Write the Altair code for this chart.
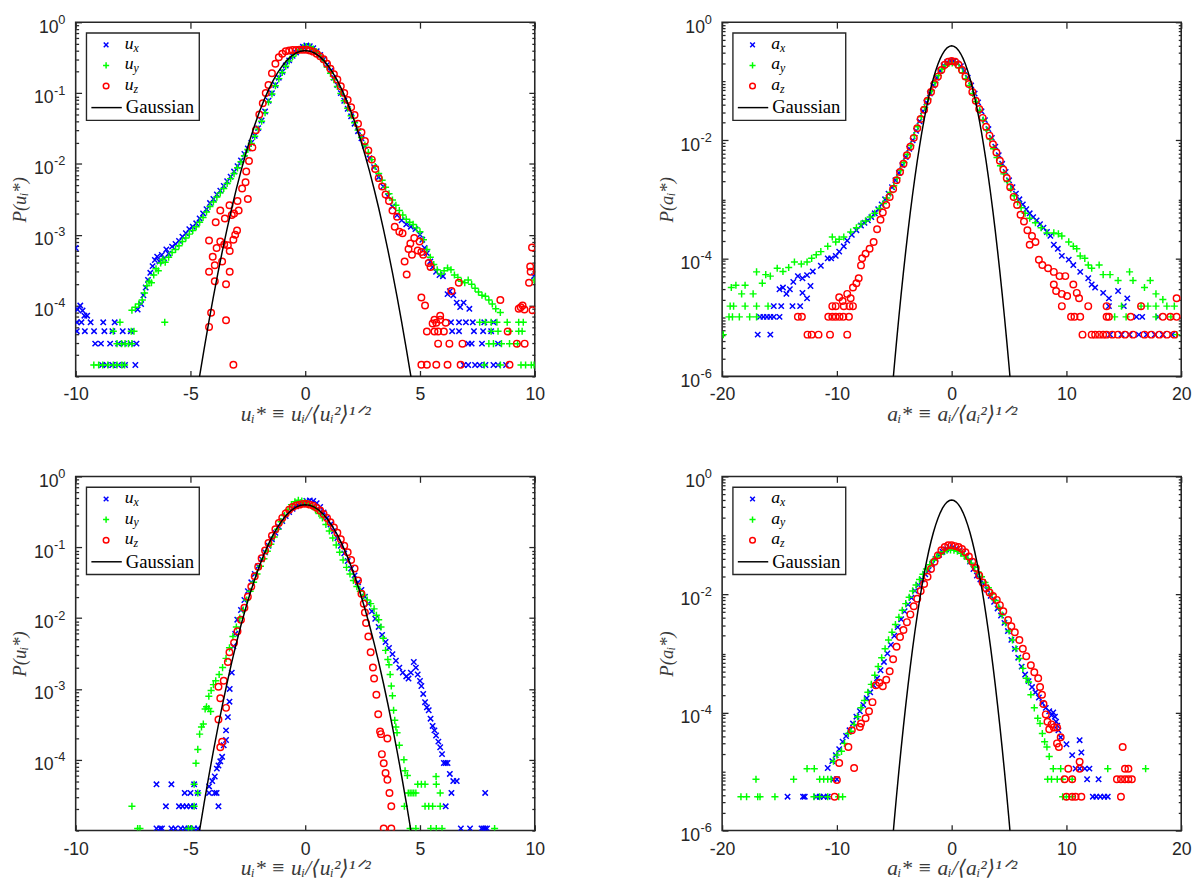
import altair as alt
import pandas as pd

# ---------------------------------------------------------------- data
# Gaussian reference curve, P = exp(-x^2/2)/sqrt(2 pi), read at fixed x
GAUSS_X = [-5.2, -5.0, -4.8, -4.6, -4.4, -4.2, -4.0, -3.8, -3.6, -3.4, -3.2, -3.0, -2.8,
           -2.6, -2.4, -2.2, -2.0, -1.8, -1.6, -1.4, -1.2, -1.0, -0.8, -0.6, -0.4, -0.2,
           0.0, 0.2, 0.4, 0.6, 0.8, 1.0, 1.2, 1.4, 1.6, 1.8, 2.0, 2.2, 2.4, 2.6, 2.8, 3.0,
           3.2, 3.4, 3.6, 3.8, 4.0, 4.2, 4.4, 4.6, 4.8, 5.0, 5.2]
GAUSS_P = [5.36e-7, 1.487e-6, 3.961e-6, 1.014e-5, 2.494e-5, 5.894e-5, 1.338e-4, 2.919e-4,
           6.12e-4, 1.232e-3, 2.384e-3, 4.432e-3, 7.92e-3, 1.358e-2, 2.239e-2, 3.547e-2,
           5.399e-2, 7.895e-2, 0.1109, 0.1497, 0.1942, 0.2420, 0.2897, 0.3332, 0.3683, 0.3910,
           0.3989, 0.3910, 0.3683, 0.3332, 0.2897, 0.2420, 0.1942, 0.1497, 0.1109, 7.895e-2,
           5.399e-2, 3.547e-2, 2.239e-2, 1.358e-2, 7.92e-3, 4.432e-3, 2.384e-3, 1.232e-3,
           6.12e-4, 2.919e-4, 1.338e-4, 5.894e-5, 2.494e-5, 1.014e-5, 3.961e-6, 1.487e-6, 5.36e-7]

# top-left: velocity PDFs, case 1  (x, P)
A_UX = [(-10.0, 6.5e-4), (-9.92, 8.8e-5), (-9.8, 1.0e-4), (-9.7, 8.5e-5), (-9.62, 7.2e-5), (-9.5, 7.2e-5),
        (-9.95, 5.8e-5), (-9.75, 5.8e-5), (-9.35, 5.8e-5), (-8.8, 5.8e-5), (-8.3, 5.8e-5),
        (-9.95, 4.35e-5), (-9.6, 4.35e-5), (-9.2, 4.35e-5), (-8.75, 4.35e-5), (-8.4, 4.35e-5), (-7.95, 4.35e-5), (-7.6, 4.35e-5),
        (-9.15, 2.9e-5), (-8.9, 2.9e-5), (-8.5, 2.9e-5), (-8.15, 2.9e-5), (-7.9, 2.9e-5), (-7.6, 2.9e-5), (-7.35, 2.9e-5),
        (-8.85, 1.45e-5), (-8.65, 1.45e-5), (-8.4, 1.45e-5), (-8.15, 1.45e-5), (-7.85, 1.45e-5), (-7.4, 1.45e-5),
        (-7.3, 8.8e-5), (-7.15, 1.05e-4), (-7.05, 1.4e-4), (-6.95, 1.8e-4), (-6.85, 2.3e-4), (-6.75, 2.9e-4),
        (-6.65, 3.6e-4), (-6.55, 4.4e-4), (-6.45, 4.9e-4), (-6.35, 4.2e-4), (-6.25, 5.2e-4), (-6.15, 4.6e-4),
        (-6.05, 6.2e-4), (-5.95, 5.4e-4), (-5.8, 6.8e-4), (-5.65, 7.4e-4), (-5.5, 8.2e-4), (-5.35, 9.4e-4),
        (-5.2, 1.05e-3), (-5.05, 1.2e-3), (-4.9, 1.3e-3), (-4.75, 1.45e-3), (-4.6, 1.7e-3), (-4.45, 2.0e-3),
        (-4.3, 2.3e-3), (-4.15, 2.8e-3), (-4.0, 3.2e-3), (-3.85, 3.7e-3), (-3.7, 4.2e-3), (-3.55, 4.9e-3),
        (-3.4, 5.7e-3), (-3.25, 6.6e-3), (-3.1, 7.8e-3), (-2.95, 9.3e-3), (-2.8, 1.12e-2), (-2.65, 1.38e-2),
        (-2.5, 1.65e-2), (-2.35, 2.0e-2), (-2.2, 2.5e-2), (-2.05, 3.2e-2), (-1.9, 4.1e-2), (-1.75, 5.5e-2),
        (-1.6, 7.8e-2), (-1.45, 0.1), (-1.3, 0.13), (-1.15, 0.165), (-1.0, 0.2), (-0.85, 0.245),
        (-0.7, 0.29), (-0.55, 0.335), (-0.4, 0.375), (-0.25, 0.415), (-0.1, 0.45), (0.05, 0.47),
        (0.2, 0.46), (0.35, 0.43), (0.5, 0.39), (0.65, 0.345), (0.8, 0.3), (0.95, 0.25), (1.1, 0.205),
        (1.25, 0.165), (1.4, 0.13), (1.55, 0.1), (1.7, 0.078), (1.85, 0.06), (2.0, 0.047), (2.15, 0.037),
        (2.3, 0.029), (2.45, 0.023), (2.6, 0.018), (2.8, 0.012), (3.0, 0.009), (3.2, 0.0065), (3.4, 0.0048),
        (3.6, 0.0035), (3.8, 0.0025), (4.0, 0.0019), (4.2, 0.0016), (4.4, 0.0014), (4.6, 0.0013),
        (4.8, 0.0012), (5.0, 0.001), (5.1, 8.5e-4), (5.2, 6.5e-4), (5.3, 5.5e-4), (5.45, 4.2e-4),
        (5.55, 3.5e-4), (5.7, 3.0e-4), (5.85, 2.7e-4), (6.0, 2.6e-4), (6.2, 1.45e-4), (6.3, 1.6e-4),
        (6.45, 1.4e-4), (6.6, 1.1e-4), (6.75, 9.5e-5), (6.9, 1.1e-4), (7.15, 9e-5),
        (6.35, 5.8e-5), (6.7, 5.8e-5), (7.0, 5.8e-5), (7.3, 5.8e-5), (7.8, 5.8e-5), (8.2, 5.8e-5),
        (6.4, 4.35e-5), (6.7, 4.35e-5), (7.35, 4.35e-5), (7.75, 4.35e-5), (8.1, 4.35e-5),
        (7.1, 2.9e-5), (7.25, 2.9e-5), (7.7, 2.9e-5), (8.4, 2.9e-5),
        (6.9, 1.45e-5), (7.1, 1.45e-5), (7.4, 1.45e-5), (7.6, 1.45e-5), (7.85, 1.45e-5), (8.2, 1.45e-5),
        (8.4, 1.45e-5), (8.75, 1.45e-5), (9.97, 2.6e-4)]
A_UY = [(-8.07, 5.8e-5), (-6.12, 5.8e-5), (-8.36, 4.35e-5), (-7.58, 4.35e-5), (-7.46, 4.35e-5),
        (-8.2, 2.9e-5), (-8.0, 2.9e-5), (-7.85, 2.9e-5), (-7.7, 2.9e-5), (-7.55, 2.9e-5),
        (-9.21, 1.45e-5), (-9.0, 1.45e-5), (-8.82, 1.45e-5), (-8.6, 1.45e-5), (-8.36, 1.45e-5), (-8.2, 1.45e-5),
        (-7.99, 1.45e-5), (-7.87, 1.45e-5),
        (-7.55, 8.6e-5), (-7.4, 9.5e-5), (-7.25, 1.05e-4), (-7.1, 1.2e-4), (-7.0, 1.5e-4), (-6.9, 1.9e-4),
        (-6.8, 2.2e-4), (-6.7, 2.1e-4), (-6.6, 2.7e-4), (-6.5, 3.3e-4), (-6.4, 3.1e-4), (-6.3, 4.0e-4),
        (-6.2, 4.5e-4), (-6.1, 4.1e-4), (-5.95, 4.8e-4), (-5.8, 5.6e-4), (-5.65, 6.2e-4), (-5.5, 7.0e-4),
        (-5.35, 8.0e-4), (-5.2, 9.0e-4), (-5.05, 1.02e-3), (-4.9, 1.15e-3), (-4.75, 1.3e-3), (-4.6, 1.5e-3),
        (-4.45, 1.75e-3), (-4.3, 2.1e-3), (-4.15, 2.5e-3), (-4.0, 2.9e-3), (-3.85, 3.4e-3), (-3.7, 3.9e-3),
        (-3.55, 4.5e-3), (-3.4, 5.3e-3), (-3.25, 6.2e-3), (-3.1, 7.3e-3), (-2.95, 8.8e-3), (-2.8, 1.07e-2),
        (-2.65, 1.3e-2), (-2.5, 1.6e-2), (-2.35, 1.95e-2), (-2.2, 2.45e-2), (-2.05, 3.1e-2), (-1.9, 4.0e-2),
        (-1.75, 5.3e-2), (-1.6, 7.5e-2), (-1.45, 9.7e-2), (-1.3, 0.127), (-1.15, 0.16), (-1.0, 0.195),
        (-0.85, 0.24), (-0.7, 0.285), (-0.55, 0.33), (-0.4, 0.37), (-0.25, 0.41), (-0.1, 0.44), (0.05, 0.455),
        (0.2, 0.45), (0.35, 0.42), (0.5, 0.38), (0.65, 0.335), (0.8, 0.285), (0.95, 0.235), (1.1, 0.19),
        (1.25, 0.155), (1.4, 0.124), (1.55, 0.099), (1.7, 0.078), (1.85, 0.061), (2.0, 0.048), (2.15, 0.038),
        (2.3, 0.03), (2.45, 0.0235), (2.6, 0.0185), (2.75, 0.0145), (2.9, 0.0115), (3.05, 0.0092),
        (3.2, 0.0073), (3.35, 0.0059), (3.5, 0.0047), (3.65, 0.0038), (3.8, 0.0031), (3.95, 0.0026),
        (4.1, 0.0022), (4.25, 0.0019), (4.4, 0.00165), (4.55, 0.0015), (4.7, 0.0014), (4.85, 0.00125),
        (5.0, 0.0011), (5.15, 8.5e-4), (5.3, 6.2e-4), (5.45, 4.8e-4), (5.6, 3.8e-4), (5.75, 3.2e-4),
        (5.9, 2.8e-4), (6.05, 3.1e-4), (6.2, 3.4e-4), (6.35, 3.2e-4), (6.5, 2.7e-4), (6.65, 2.5e-4),
        (6.8, 2.2e-4), (6.95, 2.1e-4), (7.1, 2.3e-4), (7.25, 2.0e-4), (7.4, 1.75e-4), (7.55, 1.55e-4),
        (7.7, 1.4e-4), (7.85, 1.35e-4), (8.0, 1.2e-4), (8.15, 1.05e-4), (8.3, 9.0e-5), (8.5, 8.0e-5),
        (7.6, 5.8e-5), (7.85, 5.8e-5), (8.1, 5.8e-5), (8.35, 5.8e-5), (8.8, 5.8e-5), (9.3, 5.8e-5), (9.5, 5.8e-5),
        (8.1, 4.35e-5), (8.4, 4.35e-5), (8.9, 4.35e-5), (9.3, 4.35e-5), (9.45, 4.35e-5),
        (8.0, 2.9e-5), (8.2, 2.9e-5), (8.55, 2.9e-5), (8.9, 2.9e-5), (9.25, 2.9e-5),
        (7.8, 1.45e-5), (8.5, 1.45e-5), (9.4, 1.45e-5), (9.6, 1.45e-5), (9.85, 1.45e-5), (9.97, 1.45e-5),
        (9.97, 2.3e-4)]
A_UZ = [(-4.19, 8.3e-4), (-4.19, 3.0e-4), (-4.19, 5.0e-5), (-4.1, 7.9e-5), (-4.03, 4.9e-4), (-3.94, 3.7e-4),
        (-3.94, 2.2e-4), (-3.9, 1.5e-3), (-3.86, 6.5e-4), (-3.7, 8.0e-4), (-3.7, 2.2e-3), (-3.62, 4.2e-4),
        (-3.53, 7.3e-4), (-3.5, 1.7e-3), (-3.45, 2.0e-4), (-3.45, 6.2e-5), (-3.37, 7.1e-4), (-3.3, 2.6e-3),
        (-3.29, 5.9e-4), (-3.29, 3.0e-4), (-3.2, 1.9e-3), (-3.13, 8.5e-4), (-3.13, 1.46e-5), (-3.1, 2.0e-3),
        (-3.05, 1.0e-3), (-2.97, 1.15e-3), (-2.95, 3.0e-3), (-2.9, 2.2e-3), (-2.75, 4.5e-3), (-2.6, 5.5e-3),
        (-2.57, 7.8e-3), (-2.5, 3.2e-3), (-2.45, 1.1e-2), (-2.3, 1.7e-2), (-2.15, 3.0e-2), (-2.0, 5.0e-2),
        (-1.85, 7.2e-2), (-1.72, 0.1), (-1.6, 0.13), (-1.45, 0.19), (-1.3, 0.26), (-1.15, 0.32), (-1.0, 0.36),
        (-0.85, 0.39), (-0.7, 0.4), (-0.55, 0.405), (-0.4, 0.405), (-0.25, 0.41), (-0.1, 0.41), (0.05, 0.41),
        (0.2, 0.4), (0.35, 0.385), (0.5, 0.36), (0.65, 0.33), (0.8, 0.3), (0.95, 0.26), (1.1, 0.22),
        (1.25, 0.185), (1.4, 0.155), (1.55, 0.125), (1.7, 0.1), (1.85, 0.08), (2.0, 0.063), (2.15, 0.049),
        (2.3, 0.037), (2.45, 0.028), (2.6, 0.021), (2.75, 0.0155), (2.9, 0.0115), (3.05, 0.0085),
        (3.2, 0.0063), (3.35, 0.0048), (3.5, 0.0037), (3.65, 0.003), (3.8, 0.0022), (3.9, 0.0013),
        (4.0, 0.0018), (4.1, 0.0011), (4.24, 0.00105), (4.33, 4.2e-4), (4.42, 2.75e-4), (4.5, 6.3e-4),
        (4.58, 7.5e-4), (4.65, 5.2e-4), (4.75, 9e-4), (4.9, 6.0e-4), (4.98, 8.0e-4), (5.06, 5.7e-4),
        (5.06, 1.3e-4), (5.06, 1.46e-5), (5.14, 5.2e-4), (5.22, 1.0e-4), (5.3, 4.3e-5), (5.3, 1.46e-5),
        (5.38, 4.0e-4), (5.46, 3.5e-4), (5.55, 5.6e-5), (5.63, 6.3e-5), (5.63, 4.3e-5), (5.71, 5.7e-5),
        (5.71, 1.46e-5), (5.79, 4.3e-5), (5.79, 2.9e-5), (5.88, 6.3e-5), (5.88, 7.2e-5), (6.04, 4.3e-5),
        (6.12, 5.7e-5), (6.2, 1.46e-5), (6.28, 2.9e-5), (6.37, 1.6e-4), (6.69, 2.1e-4), (6.77, 1.46e-5),
        (6.85, 2.9e-5), (8.5, 1.2e-4), (8.82, 4.3e-5), (8.9, 1.46e-5), (9.22, 2.9e-5), (9.3, 9.0e-5),
        (9.39, 9.5e-5), (9.47, 1.0e-4), (9.55, 8.8e-5), (9.56, 2.9e-5), (9.75, 2.1e-4), (9.8, 3.55e-4),
        (9.82, 3.0e-4), (9.88, 6.6e-4), (9.9, 8.6e-5)]

# top-right: acceleration PDFs, case 1
B_AX = [(-0.1, 0.22), (0.2, 0.22), (0.5, 0.2), (-0.4, 0.21), (-0.7, 0.185), (0.8, 0.18), (-1.0, 0.15),
        (1.1, 0.15), (-1.3, 0.115), (1.4, 0.115), (-1.6, 0.085), (1.7, 0.085), (-1.9, 0.062), (2.0, 0.062),
        (-2.2, 0.044), (2.3, 0.044), (-2.5, 0.031), (2.6, 0.031), (-2.8, 0.021), (2.9, 0.022), (-3.1, 0.0145),
        (3.2, 0.0155), (-3.4, 0.01), (3.5, 0.011), (-3.7, 0.0072), (3.8, 0.0078), (-4.0, 0.0052), (4.1, 0.0056),
        (-4.3, 0.0038), (4.4, 0.004), (-4.6, 0.0028), (4.7, 0.0029), (-4.9, 0.0021), (5.0, 0.0021),
        (-5.2, 0.0016), (5.3, 0.0016), (-5.5, 0.00125), (5.6, 0.00125), (-5.8, 0.001), (5.9, 0.001),
        (-6.1, 8.2e-4), (6.2, 8.2e-4), (-6.4, 6.8e-4), (6.5, 6.8e-4), (-6.7, 5.8e-4), (6.8, 5.8e-4),
        (-7.0, 5.0e-4), (7.1, 5.0e-4), (-7.3, 4.4e-4), (7.4, 4.4e-4), (-7.6, 4.0e-4), (7.7, 3.8e-4),
        (-7.9, 3.6e-4), (8.0, 3.3e-4), (-8.3, 3.0e-4), (8.3, 2.8e-4), (-8.7, 2.5e-4), (8.6, 2.4e-4),
        (-9.1, 2.0e-4), (8.9, 1.7e-4), (-9.4, 1.6e-4), (9.25, 1.45e-4), (-9.8, 1.3e-4), (9.6, 1.1e-4),
        (-10.1, 1.1e-4), (10.2, 9.5e-5), (-10.5, 1.0e-4), (10.6, 7.7e-5), (-10.8, 1.0e-4), (11.2, 5.9e-5),
        (-11.4, 7.5e-5), (11.9, 4.6e-5), (-12.1, 6.0e-5), (12.2, 3.6e-5), (-12.6, 5.2e-5), (12.5, 3.2e-5),
        (-13.0, 4.6e-5), (13.2, 2.6e-5), (-13.4, 5.0e-5), (13.7, 2.1e-5), (-13.8, 4.0e-5), (14.5, 2.8e-5),
        (-14.1, 3.0e-5), (15.3, 2.1e-5), (-14.4, 2.5e-5), (-14.7, 3.2e-5), (-15.0, 3.0e-5), (-12.6, 2.1e-5),
        (-13.0, 2.6e-5), (-12.3, 3.4e-5),
        (-15.5, 1.55e-5), (-14.85, 1.55e-5), (-13.87, 1.55e-5), (-13.2, 1.55e-5), (13.7, 1.55e-5), (15.0, 1.55e-5),
        (-16.7, 1.02e-5), (-16.4, 1.02e-5), (-16.1, 1.02e-5), (-15.8, 1.02e-5), (-15.5, 1.02e-5),
        (-15.0, 1.02e-5), (16.1, 1.02e-5), (16.6, 1.02e-5), (18.0, 1.02e-5),
        (-16.9, 5.1e-6), (-15.8, 5.1e-6), (13.8, 5.1e-6), (14.8, 5.1e-6), (15.5, 5.1e-6), (16.3, 5.1e-6),
        (17.0, 5.1e-6), (17.7, 5.1e-6), (18.4, 5.1e-6), (19.2, 5.1e-6)]
B_AY = [(-0.25, 0.2), (0.05, 0.205), (0.35, 0.195), (-0.55, 0.185), (0.65, 0.17), (-0.85, 0.16), (0.95, 0.14),
        (-1.15, 0.125), (1.25, 0.11), (-1.45, 0.095), (1.55, 0.085), (-1.75, 0.07), (1.85, 0.062), (-2.05, 0.05),
        (2.15, 0.045), (-2.35, 0.036), (2.45, 0.032), (-2.65, 0.025), (2.75, 0.022), (-2.95, 0.017),
        (3.05, 0.015), (-3.25, 0.012), (3.35, 0.0105), (-3.55, 0.0082), (3.65, 0.0072), (-3.85, 0.0058),
        (3.95, 0.0051), (-4.15, 0.0042), (4.25, 0.0037), (-4.45, 0.0031), (4.55, 0.0027), (-4.75, 0.0023),
        (4.85, 0.002), (-5.05, 0.0017), (5.15, 0.0015), (-5.35, 0.0013), (5.45, 0.00115), (-5.65, 0.00105),
        (5.75, 9e-4), (-5.95, 8.5e-4), (6.05, 7.2e-4), (-6.3, 7e-4), (6.4, 5.8e-4), (-6.7, 5.8e-4),
        (6.8, 4.8e-4), (-7.1, 5.0e-4), (7.3, 4.0e-4), (-7.5, 4.3e-4), (7.8, 3.3e-4), (-7.9, 3.8e-4),
        (8.3, 2.7e-4), (-8.3, 3.3e-4), (8.9, 2.7e-4), (-8.8, 2.8e-4), (9.3, 2.6e-4), (-9.4, 2.3e-4),
        (9.6, 2.4e-4), (-9.8, 2.1e-4), (10.2, 1.9e-4), (-10.1, 1.9e-4), (10.6, 1.6e-4), (-10.4, 2.3e-4),
        (10.9, 1.45e-4), (-10.8, 1.6e-4), (11.2, 1.1e-4), (-11.4, 1.3e-4), (11.6, 1.0e-4), (-11.8, 1.15e-4),
        (11.9, 7.7e-5), (-12.2, 1.0e-4), (12.2, 6.8e-5), (-12.6, 8.7e-5), (12.85, 7.7e-5), (-13.1, 8.0e-5),
        (13.2, 5.3e-5), (-13.7, 8.7e-5), (13.8, 5.3e-5), (-14.2, 7.0e-5), (14.5, 4.2e-5), (-14.7, 6.0e-5),
        (15.5, 5.9e-5), (-15.2, 6.8e-5), (15.8, 4.2e-5), (-15.8, 5.0e-5), (16.8, 3.2e-5), (-16.2, 5.3e-5),
        (17.3, 4.2e-5), (-17.0, 5.9e-5), (17.8, 2.5e-5), (-17.3, 2.5e-5), (18.4, 2.0e-5), (-18.0, 3.5e-5),
        (-18.3, 2.5e-5), (-18.8, 3.5e-5), (-19.2, 3.2e-5), (-16.5, 3.8e-5),
        (-19.3, 1.55e-5), (-19.0, 1.55e-5), (-18.0, 1.55e-5), (-17.0, 1.55e-5), (-16.0, 1.55e-5), (14.8, 1.55e-5),
        (16.5, 1.55e-5), (17.1, 1.55e-5), (17.8, 1.55e-5), (18.75, 1.55e-5), (19.4, 1.55e-5),
        (-19.4, 1.02e-5), (-19.1, 1.02e-5), (-18.5, 1.02e-5), (-17.6, 1.02e-5), (-17.0, 1.02e-5), (14.2, 1.02e-5),
        (15.2, 1.02e-5), (17.8, 1.02e-5), (19.1, 1.02e-5),
        (-19.9, 5.1e-6), (19.6, 5.1e-6)]
B_AZ = [(0.0, 0.22), (-0.3, 0.215), (0.3, 0.215), (-0.6, 0.19), (0.6, 0.19), (-0.9, 0.155), (0.9, 0.155),
        (-1.2, 0.12), (1.2, 0.12), (-1.5, 0.09), (1.5, 0.09), (-1.8, 0.066), (1.8, 0.066), (-2.1, 0.047),
        (2.1, 0.047), (-2.4, 0.033), (2.4, 0.034), (-2.7, 0.023), (2.7, 0.024), (-3.0, 0.016), (3.0, 0.017),
        (-3.3, 0.011), (3.3, 0.012), (-3.6, 0.0078), (3.6, 0.0086), (-3.9, 0.0056), (3.9, 0.0062),
        (-4.2, 0.004), (4.2, 0.0045), (-4.5, 0.0029), (4.5, 0.0032), (-4.8, 0.0021), (4.8, 0.0023),
        (-5.1, 0.0015), (5.1, 0.0016), (-5.4, 0.0011), (5.4, 0.0011), (-5.7, 8e-4), (5.7, 8e-4), (-6.0, 6e-4),
        (6.0, 5.5e-4), (-6.2, 4.5e-4), (6.3, 4.2e-4), (-6.5, 3.1e-4), (6.6, 3.0e-4), (-6.8, 1.9e-4),
        (6.8, 1.7e-4), (-7.15, 1.45e-4), (7.0, 2.4e-4), (-7.5, 1.2e-4), (7.3, 1.9e-4), (-7.8, 1.0e-4),
        (7.6, 9.5e-5), (-7.9, 7.6e-5), (7.9, 7.7e-5), (-8.1, 4.6e-5), (8.4, 6.8e-5), (-8.3, 3.8e-5),
        (8.9, 5.9e-5), (-8.6, 3.2e-5), (9.4, 5.0e-5), (-9.1, 2.5e-5), (9.9, 5.0e-5), (-8.8, 2.1e-5),
        (8.9, 3.6e-5), (-9.5, 1.9e-5), (9.1, 2.8e-5), (-9.8, 2.2e-5), (9.6, 2.5e-5), (10.6, 3.6e-5),
        (10.9, 2.6e-5), (11.1, 2.1e-5), (10.06, 2.3e-5), (19.6, 2.1e-5),
        (-10.4, 1.55e-5), (-10.1, 1.55e-5), (-9.4, 1.55e-5), (-8.9, 1.55e-5), (-8.6, 1.55e-5), (9.6, 1.55e-5),
        (11.9, 1.55e-5), (13.5, 1.55e-5), (16.5, 1.55e-5),
        (-13.4, 1.02e-5), (-13.05, 1.02e-5), (-10.75, 1.02e-5), (-10.4, 1.02e-5), (-10.1, 1.02e-5),
        (-9.77, 1.02e-5), (-9.44, 1.02e-5), (-8.95, 1.02e-5), (10.4, 1.02e-5), (10.7, 1.02e-5),
        (11.2, 1.02e-5), (13.5, 1.02e-5), (13.7, 1.02e-5), (15.6, 1.02e-5), (18.4, 1.02e-5),
        (19.05, 1.02e-5), (19.6, 1.02e-5),
        (-12.56, 5.1e-6), (-12.2, 5.1e-6), (-11.6, 5.1e-6), (-10.6, 5.1e-6), (-9.1, 5.1e-6), (11.4, 5.1e-6),
        (12.2, 5.1e-6), (12.5, 5.1e-6), (12.85, 5.1e-6), (13.2, 5.1e-6), (13.5, 5.1e-6), (14.0, 5.1e-6),
        (14.5, 5.1e-6), (15.1, 5.1e-6), (15.8, 5.1e-6), (16.8, 5.1e-6), (17.4, 5.1e-6), (18.1, 5.1e-6),
        (18.75, 5.1e-6), (19.4, 5.1e-6)]

# bottom-left: velocity PDFs, case 2
C_UX = [(-6.48, 4.5e-5), (-5.83, 4.5e-5), (-4.84, 4.5e-5),
        (-5.25, 3.4e-5), (-5.0, 3.4e-5), (-4.68, 3.4e-5), (-4.19, 3.4e-5), (-3.94, 3.4e-5), (-3.86, 3.4e-5),
        (-6.07, 2.2e-5), (-5.5, 2.2e-5), (-5.34, 2.2e-5), (-5.17, 2.2e-5), (-5.0, 2.2e-5), (-4.84, 2.2e-5),
        (-3.78, 2.2e-5),
        (-6.48, 1.07e-5), (-6.32, 1.07e-5), (-6.24, 1.07e-5), (-5.83, 1.07e-5), (-5.66, 1.07e-5),
        (-5.42, 1.07e-5), (-5.25, 1.07e-5), (-5.09, 1.07e-5), (-4.84, 1.07e-5), (-4.68, 1.07e-5),
        (-4.19, 4.2e-5), (-4.05, 5.0e-5), (-3.94, 5.8e-5), (-3.85, 7.5e-5), (-3.78, 8.3e-5), (-3.7, 9.5e-5),
        (-3.62, 1.1e-4), (-3.55, 1.6e-4), (-3.45, 1.9e-4), (-3.45, 2.6e-4), (-3.37, 4.0e-4), (-3.3, 6.6e-4),
        (-3.29, 1.0e-3), (-3.2, 1.7e-3), (-3.13, 4.0e-3), (-3.05, 6e-3), (-2.96, 9.5e-3), (-2.8, 0.013),
        (-2.65, 0.018), (-2.5, 0.024), (-2.35, 0.032), (-2.2, 0.042), (-2.05, 0.054), (-1.9, 0.068),
        (-1.75, 0.085), (-1.6, 0.105), (-1.45, 0.13), (-1.3, 0.16), (-1.15, 0.195), (-1.0, 0.235),
        (-0.85, 0.275), (-0.7, 0.315), (-0.55, 0.35), (-0.4, 0.38), (-0.25, 0.41), (-0.1, 0.43), (0.05, 0.45),
        (0.2, 0.46), (0.35, 0.45), (0.5, 0.42), (0.65, 0.37), (0.8, 0.31), (0.95, 0.26), (1.1, 0.21),
        (1.25, 0.17), (1.4, 0.135), (1.55, 0.105), (1.7, 0.082), (1.85, 0.064), (2.0, 0.05), (2.15, 0.04),
        (2.3, 0.032), (2.45, 0.025), (2.6, 0.02), (2.75, 0.016), (2.9, 0.0125), (3.05, 0.0098),
        (3.2, 0.0075), (3.35, 0.0058), (3.5, 0.0046), (3.65, 0.0038), (3.8, 0.0031), (3.95, 0.0025),
        (4.1, 0.002), (4.25, 0.0017), (4.4, 0.0015), (4.5, 0.0014), (4.6, 0.0017), (4.73, 0.0024),
        (4.82, 0.002), (4.9, 0.0016), (5.0, 0.0013), (5.06, 0.0011), (5.14, 8.5e-4), (5.22, 6.5e-4),
        (5.3, 5.5e-4), (5.38, 5.0e-4), (5.46, 3.8e-4), (5.55, 3.0e-4), (5.63, 2.6e-4), (5.7, 2.2e-4),
        (5.8, 1.8e-4), (5.88, 1.5e-4), (5.96, 1.2e-4), (6.04, 9e-5), (6.12, 9e-5), (6.2, 9e-5),
        (6.3, 6.3e-5), (6.45, 5.0e-5), (6.6, 5.0e-5),
        (6.37, 3.4e-5), (7.84, 3.4e-5), (6.12, 2.2e-5), (6.78, 1.07e-5), (7.18, 1.07e-5), (7.68, 1.07e-5),
        (7.76, 1.07e-5), (7.84, 1.07e-5), (7.92, 1.07e-5)]
C_UY = [(-7.55, 2.2e-5), (-7.3, 1.07e-5), (-7.2, 1.07e-5), (-5.09, 1.07e-5), (-4.95, 1.07e-5),
        (-4.84, 2.2e-5), (-4.68, 3.4e-5), (-4.84, 4.5e-5), (-4.76, 8.9e-5), (-4.68, 1.4e-4), (-4.6, 2.3e-4),
        (-4.52, 2.9e-4), (-4.44, 3.2e-4), (-4.36, 5.2e-4), (-4.3, 5.6e-4), (-4.2, 5.3e-4), (-4.12, 4.8e-4),
        (-4.2, 7.9e-4), (-4.1, 9.5e-4), (-4.0, 1.15e-3), (-3.9, 1.3e-3), (-3.75, 1.6e-3), (-3.6, 2.0e-3),
        (-3.45, 2.7e-3), (-3.3, 3.8e-3), (-3.15, 5.5e-3), (-3.0, 7.5e-3), (-2.85, 1.0e-2), (-2.7, 1.3e-2),
        (-2.55, 1.8e-2), (-2.4, 2.4e-2), (-2.25, 3.2e-2), (-2.1, 4.2e-2), (-1.95, 5.4e-2), (-1.8, 6.9e-2),
        (-1.65, 8.8e-2), (-1.5, 0.11), (-1.35, 0.14), (-1.2, 0.18), (-1.05, 0.23), (-0.9, 0.28),
        (-0.75, 0.34), (-0.6, 0.4), (-0.45, 0.44), (-0.3, 0.46), (-0.15, 0.45), (0.0, 0.43), (0.15, 0.41),
        (0.3, 0.38), (0.45, 0.34), (0.6, 0.3), (0.75, 0.26), (0.9, 0.21), (1.05, 0.17), (1.2, 0.135),
        (1.35, 0.108), (1.5, 0.085), (1.65, 0.066), (1.8, 0.052), (1.95, 0.042), (2.1, 0.034),
        (2.25, 0.028), (2.4, 0.024), (2.55, 0.021), (2.7, 0.018), (2.85, 0.016), (3.0, 0.0135),
        (3.1, 0.011), (3.2, 0.0095), (3.3, 0.0075), (3.4, 0.0052), (3.5, 0.0035), (3.6, 0.0026),
        (3.65, 0.0022), (3.7, 0.0016), (3.75, 1.1e-3), (3.8, 8e-4), (3.85, 5e-4), (3.9, 3.6e-4),
        (3.95, 2.9e-4), (4.0, 2.4e-4), (4.1, 1.6e-4), (4.3, 1.0e-4), (4.35, 7e-5), (4.45, 6e-5),
        (4.9, 4.5e-5), (5.06, 4.5e-5), (5.22, 4.5e-5), (5.71, 4.5e-5),
        (4.49, 3.4e-5), (4.57, 3.4e-5), (4.65, 3.4e-5), (4.73, 3.4e-5), (4.82, 3.4e-5), (5.88, 3.4e-5),
        (4.32, 2.2e-5), (5.22, 2.2e-5), (5.38, 2.2e-5), (5.55, 2.2e-5), (5.88, 2.2e-5),
        (4.57, 1.07e-5), (4.82, 1.07e-5), (5.47, 1.07e-5), (5.71, 1.07e-5), (5.96, 1.07e-5), (8.25, 1.07e-5),
        (5.7, 5.8e-5)]
C_UZ = [(-3.78, 1.07e-3), (-3.7, 7.4e-4), (-3.45, 5.4e-4), (-3.78, 3.7e-4), (-3.62, 1.8e-4), (-3.7, 1.5e-4),
        (-3.55, 1.3e-3), (-3.37, 2.4e-3), (-3.3, 3.3e-3), (-3.1, 4.5e-3), (-2.95, 6.5e-3), (-2.8, 9.5e-3),
        (-2.65, 0.014), (-2.5, 0.02), (-2.35, 0.028), (-2.2, 0.039), (-2.05, 0.053), (-1.9, 0.07),
        (-1.75, 0.09), (-1.6, 0.115), (-1.45, 0.145), (-1.3, 0.18), (-1.15, 0.22), (-1.0, 0.26),
        (-0.85, 0.3), (-0.7, 0.34), (-0.55, 0.37), (-0.4, 0.39), (-0.25, 0.4), (-0.1, 0.41), (0.05, 0.41),
        (0.2, 0.4), (0.35, 0.385), (0.5, 0.36), (0.65, 0.33), (0.8, 0.295), (0.95, 0.26), (1.1, 0.225),
        (1.25, 0.19), (1.4, 0.16), (1.55, 0.13), (1.7, 0.105), (1.85, 0.085), (2.0, 0.066), (2.15, 0.05),
        (2.3, 0.034), (2.45, 0.022), (2.55, 0.016), (2.6, 0.012), (2.65, 8.5e-3), (2.75, 5.5e-3),
        (2.85, 3.3e-3), (2.95, 2.0e-3), (3.0, 1.4e-3), (3.1, 8.3e-4), (3.18, 4.4e-4), (3.26, 2.5e-4),
        (3.3, 2.3e-4), (3.58, 2.0e-4), (3.34, 1.2e-4), (3.42, 8.9e-5), (3.5, 6.5e-5), (3.58, 5.2e-5),
        (3.67, 3.4e-5), (3.75, 2.2e-5), (3.42, 1.07e-5), (3.75, 1.07e-5)]

# bottom-right: acceleration PDFs, case 2
D_AX = [(-0.2, 0.062), (0.1, 0.063), (0.4, 0.06), (-0.5, 0.058), (0.7, 0.056), (-0.8, 0.053), (1.0, 0.05),
        (-1.1, 0.047), (1.3, 0.044), (-1.4, 0.04), (1.6, 0.036), (-1.7, 0.033), (1.9, 0.027),
        (-2.0, 0.026), (2.2, 0.021), (-2.3, 0.022), (2.5, 0.018), (-2.6, 0.018), (2.8, 0.015),
        (-2.9, 0.0145), (3.1, 0.012), (-3.2, 0.0115), (3.4, 0.0095), (-3.5, 0.0088), (3.7, 0.0075),
        (-3.8, 0.0068), (4.0, 0.0058), (-4.1, 0.0052), (4.3, 0.0044), (-4.4, 0.0038), (4.6, 0.0033),
        (-4.7, 0.0028), (4.9, 0.0024), (-5.0, 0.002), (5.2, 0.0017), (-5.3, 0.0014), (5.5, 0.0012),
        (-5.6, 0.001), (5.8, 8.5e-4), (-5.9, 7.2e-4), (6.1, 6e-4), (-6.2, 5.2e-4), (6.4, 4.4e-4),
        (-6.5, 3.8e-4), (6.7, 3.4e-4), (-6.8, 2.9e-4), (7.0, 2.7e-4), (-7.1, 2.2e-4), (7.3, 2.2e-4),
        (-7.4, 1.75e-4), (7.6, 1.8e-4), (-7.7, 1.35e-4), (7.9, 1.45e-4), (-8.0, 1.05e-4), (8.2, 1.2e-4),
        (-8.3, 8.5e-5), (8.5, 1.05e-4), (-8.6, 6.5e-5), (8.7, 9e-5), (-8.9, 5e-5), (8.85, 1.0e-4),
        (-9.2, 4e-5), (9.0, 8.5e-5), (-9.5, 3.2e-5), (9.1, 7e-5), (-9.8, 2.4e-5), (9.2, 6e-5),
        (-10.1, 1.9e-5), (9.3, 5e-5), (-10.4, 1.5e-5), (9.5, 3.8e-5), (-10.8, 1.15e-5), (10.0, 2.9e-5),
        (10.5, 1.9e-5), (11.15, 3.4e-5), (11.3, 2.1e-5),
        (10.8, 1.12e-5), (11.15, 1.12e-5), (11.6, 1.12e-5), (12.0, 1.12e-5),
        (-10.3, 7.4e-6), (-10.0, 7.4e-6), (11.8, 7.4e-6), (12.8, 7.4e-6),
        (-14.3, 3.75e-6), (-12.95, 3.75e-6), (-12.8, 3.75e-6), (-11.8, 3.75e-6), (-11.5, 3.75e-6),
        (-11.15, 3.75e-6), (-10.8, 3.75e-6), (12.3, 3.75e-6), (12.6, 3.75e-6), (12.95, 3.75e-6),
        (13.3, 3.75e-6), (13.6, 3.75e-6)]
D_AY = [(-0.4, 0.056), (-0.1, 0.057), (0.2, 0.056), (0.5, 0.054), (-0.7, 0.053), (0.8, 0.05), (-1.0, 0.048),
        (1.1, 0.045), (-1.3, 0.043), (1.4, 0.04), (-1.6, 0.038), (1.7, 0.034), (-1.9, 0.032), (2.0, 0.029),
        (-2.2, 0.027), (2.3, 0.024), (-2.5, 0.022), (2.6, 0.02), (-2.8, 0.018), (2.9, 0.016), (-3.1, 0.0145),
        (3.2, 0.013), (-3.4, 0.0115), (3.5, 0.0102), (-3.7, 0.009), (3.8, 0.0079), (-4.0, 0.007),
        (4.1, 0.006), (-4.3, 0.0054), (4.4, 0.0045), (-4.6, 0.0041), (4.7, 0.0033), (-4.9, 0.0031),
        (5.0, 0.0024), (-5.2, 0.0023), (5.3, 0.0017), (-5.5, 0.0017), (5.6, 0.0012), (-5.8, 0.0012),
        (5.9, 8.2e-4), (-6.1, 8.5e-4), (6.2, 5.6e-4), (-6.4, 6e-4), (6.5, 3.8e-4), (-6.7, 4.3e-4),
        (6.7, 3.3e-4), (-7.0, 3.0e-4), (6.9, 2.0e-4), (-7.3, 2.2e-4), (7.2, 1.2e-4), (-7.6, 1.6e-4),
        (7.5, 8e-5), (-7.9, 1.2e-4), (7.7, 6.5e-5), (-8.2, 8.5e-5), (7.9, 4.4e-5), (-8.5, 6.3e-5),
        (8.1, 3.2e-5), (-8.8, 4.8e-5), (8.3, 2.6e-5), (-9.0, 4.4e-5), (8.5, 1.8e-5), (-9.34, 3e-5),
        (-9.6, 2.2e-5), (-10.0, 1.9e-5), (-10.3, 1.5e-5),
        (-12.6, 1.12e-5), (-11.97, 1.12e-5), (8.85, 1.12e-5), (9.5, 1.12e-5), (13.6, 1.12e-5), (16.9, 1.12e-5),
        (-17.05, 7.4e-6), (-13.77, 7.4e-6), (-11.5, 7.4e-6), (-11.15, 7.4e-6), (-10.8, 7.4e-6),
        (-10.5, 7.4e-6), (8.36, 7.4e-6), (8.7, 7.4e-6), (9.2, 7.4e-6), (9.67, 7.4e-6), (10.5, 7.4e-6),
        (-18.36, 3.75e-6), (-17.87, 3.75e-6), (-16.9, 3.75e-6), (-16.7, 3.75e-6), (-15.4, 3.75e-6),
        (-12.0, 3.75e-6), (-11.5, 3.75e-6), (-10.8, 3.75e-6), (-9.84, 3.75e-6), (-9.5, 3.75e-6),
        (9.67, 3.75e-6), (10.0, 3.75e-6), (10.5, 3.75e-6)]
D_AZ = [(-0.3, 0.068), (-0.6, 0.064), (-0.9, 0.056), (-1.2, 0.046), (-1.5, 0.036), (-1.8, 0.027), (-2.1, 0.02),
        (-2.4, 0.015), (-2.7, 0.0115), (-3.0, 0.0085), (-3.3, 0.0063), (-3.6, 0.0046), (-3.9, 0.0034),
        (-4.2, 0.0025), (-4.5, 0.0019), (-4.8, 0.0013), (-5.1, 8e-4), (-5.4, 5e-4), (-5.7, 3.6e-4),
        (-6.0, 2.8e-4), (-6.3, 3.2e-4), (-6.6, 2.9e-4), (-6.9, 1.5e-4), (-7.2, 1.05e-4), (-7.5, 8e-5),
        (-7.9, 6.5e-5), (-8.0, 5.7e-5), (-8.7, 5e-5), (-9.0, 2.6e-5), (-8.5, 1.15e-5), (-9.8, 1.4e-5),
        (-10.0, 7.2e-6), (-10.2, 3.75e-6),
        (0.0, 0.068), (0.3, 0.066), (0.6, 0.064), (0.9, 0.059), (1.2, 0.052), (1.5, 0.044), (1.8, 0.036),
        (2.1, 0.028), (2.4, 0.021), (2.7, 0.016), (3.0, 0.0128), (3.3, 0.0108), (3.6, 0.0094),
        (3.93, 0.0081), (4.2, 0.0066), (4.5, 0.0052), (4.92, 0.0037), (5.2, 0.0029), (5.5, 0.0023),
        (5.9, 0.0017), (6.2, 0.0012), (6.5, 9e-4), (6.9, 6.3e-4), (7.2, 4.8e-4), (7.54, 3.8e-4),
        (7.7, 2.7e-4), (7.87, 2.0e-4), (8.0, 1.4e-4), (8.2, 9.3e-5), (8.35, 7e-5), (8.5, 5.2e-5),
        (8.7, 6.3e-5), (8.9, 5.6e-5), (9.18, 5.6e-5), (9.18, 3.0e-5), (9.34, 2.6e-5), (9.5, 3.8e-5),
        (11.15, 1.47e-5), (14.9, 2.6e-5),
        (10.16, 1.12e-5), (11.15, 1.12e-5), (15.1, 1.12e-5), (15.4, 1.12e-5),
        (9.84, 7.4e-6), (10.5, 7.4e-6), (14.4, 7.4e-6), (14.75, 7.4e-6), (15.1, 7.4e-6), (15.4, 7.4e-6),
        (15.7, 7.4e-6),
        (10.0, 3.75e-6), (10.5, 3.75e-6), (10.8, 3.75e-6), (11.3, 3.75e-6), (14.75, 3.75e-6)]

# axis ticks
U_XTICKS = [-10, -5, 0, 5, 10]
A_XTICKS = [-20, -10, 0, 10, 20]
U_YTICKS = [1e-4, 1e-3, 1e-2, 1e-1, 1]
A_YTICKS = [1e-6, 1e-4, 1e-2, 1]
MANTISSAS = [2, 3, 4, 5, 6, 7, 8, 9]

# ---------------------------------------------------------------- style
INK = "#262626"
BLUE, GREEN, RED = "#0000ff", "#00ff00", "#ff0000"
X_PATH = "M-1,-1L1,1M-1,1L1,-1"
PLUS_PATH = "M-1,0L1,0M0,-1L0,1"
SANS = "Liberation Sans, Arial, DejaVu Sans"
SERIF = "Liberation Serif, DejaVu Serif"
W, H = 468, 361

# "10" and its exponent are drawn as two label sets so the exponent can be raised
EXP_LABEL = "datum.value > 0.5 ? '0' : '-' + round(-log(datum.value) / LN10)"

ONE = pd.DataFrame({"k": [0]})


def legend_layers(var, styles):
    layers = [
        alt.Chart(ONE).mark_rect(fill="white", stroke=INK, strokeWidth=1.4)
        .encode(x=alt.value(11), x2=alt.value(126), y=alt.value(11), y2=alt.value(100))
    ]
    for row, (sub, (color, shape, size)) in enumerate(zip("xyz", styles)):
        yy = 23 + 21 * row
        layers.append(
            alt.Chart(ONE).mark_point(shape=shape, size=size * 0.75, color=color, filled=False,
                                      strokeWidth=1.5, opacity=1)
            .encode(x=alt.value(31), y=alt.value(yy))
        )
        layers.append(
            alt.Chart(ONE).mark_text(text=var, font=SERIF, fontStyle="italic", fontSize=18,
                                     align="left", baseline="alphabetic", color="black")
            .encode(x=alt.value(50), y=alt.value(yy + 4))
        )
        layers.append(
            alt.Chart(ONE).mark_text(text=sub, font=SERIF, fontStyle="italic", fontSize=12,
                                     align="left", baseline="alphabetic", color="black")
            .encode(x=alt.value(59), y=alt.value(yy + 7))
        )
    layers.append(
        alt.Chart(ONE).mark_rule(color="black", strokeWidth=1.5)
        .encode(x=alt.value(16), x2=alt.value(47), y=alt.value(87))
    )
    layers.append(
        alt.Chart(ONE).mark_text(text="Gaussian", font=SERIF, fontSize=19, align="left",
                                 baseline="alphabetic", color="black")
        .encode(x=alt.value(51), y=alt.value(93))
    )
    return layers


def panel(series, var, xlim, xticks, ymin, yticks):
    xs = alt.Scale(domain=[-xlim, xlim], nice=False, zero=False)
    ys = alt.Scale(type="log", domain=[ymin, 1], nice=False)
    decades = [d for d in [1e-6, 1e-5, 1e-4, 1e-3, 1e-2, 1e-1] if d >= ymin]
    minor = [m * d for d in decades for m in MANTISSAS] + [d for d in decades if d not in yticks]

    styles = [(BLUE, X_PATH, 30), (GREEN, PLUS_PATH, 52), (RED, "circle", 44)]
    layers = []
    for pts, (color, shape, size) in zip(series, styles):
        df = pd.DataFrame(pts, columns=["x", "p"])
        layers.append(
            alt.Chart(df).mark_point(shape=shape, size=size, color=color, filled=False,
                                     strokeWidth=1.5, opacity=1, clip=True)
            .encode(x=alt.X("x:Q", scale=xs, axis=None), y=alt.Y("p:Q", scale=ys, axis=None))
        )

    gauss = pd.DataFrame({"x": GAUSS_X, "p": GAUSS_P})
    tick = dict(tickColor=INK, tickWidth=1.3, domain=False, grid=False)
    plain = dict(ticks=False, tickSize=0, domain=False, grid=False, labelOverlap=False)

    bottom = alt.Axis(orient="bottom", values=xticks, labelExpr="'' + datum.value", offset=-6,
                      tickSize=6, labelPadding=10, labelFlush=False, labelOverlap=False,
                      labelFontSize=18, title=f"{var}ᵢ* ≡ {var}ᵢ/⟨{var}ᵢ²⟩¹ᐟ²",
                      titleFontSize=22, titlePadding=0, **tick)
    top = alt.Axis(orient="top", values=xticks, labels=False, offset=-6, tickSize=6, title=None, **tick)
    # major ticks + raised exponents
    left_exp = alt.Axis(orient="left", values=yticks, labelExpr=EXP_LABEL, labelFontSize=13,
                        labelOffset=-3, offset=-6, tickSize=6, labelPadding=11,
                        labelOverlap=False, title=None, **tick)
    right = alt.Axis(orient="right", values=yticks, labels=False, offset=-6, tickSize=6, title=None, **tick)
    minor_l = alt.Axis(orient="left", values=minor, labels=False, offset=-3, tickSize=3, title=None, **tick)
    minor_r = alt.Axis(orient="right", values=minor, labels=False, offset=-3, tickSize=3, title=None, **tick)
    # the "10" bases, shifted left by the width of the exponent that follows them
    base_neg = alt.Axis(orient="left", values=[v for v in yticks if v < 0.5], labelExpr="'10'",
                        labelFontSize=18, labelOffset=5, labelPadding=23,
                        title=f"P({var}ᵢ*)", titleFontSize=19, titlePadding=4, **plain)
    base_zero = alt.Axis(orient="left", values=[1], labelExpr="'10'", labelFontSize=18,
                         labelOffset=5, labelPadding=18, title=None, **plain)

    def ghost(xaxis, yaxis):
        return (
            alt.Chart(gauss).mark_line(opacity=0, clip=True)
            .encode(x=alt.X("x:Q", scale=xs, axis=xaxis), y=alt.Y("p:Q", scale=ys, axis=yaxis))
        )

    layers.append(
        alt.Chart(gauss).mark_line(color="black", strokeWidth=1.5, clip=True)
        .encode(x=alt.X("x:Q", scale=xs, axis=bottom), y=alt.Y("p:Q", scale=ys, axis=left_exp))
    )
    layers += [ghost(top, right), ghost(None, minor_l), ghost(None, minor_r),
               ghost(None, base_neg), ghost(None, base_zero)]
    layers += legend_layers(var, styles)

    return (
        alt.layer(*layers)
        .resolve_axis(x="independent", y="independent")
        .properties(width=W, height=H)
    )


pa = panel([A_UX, A_UY, A_UZ], "u", 10, U_XTICKS, 1e-5, U_YTICKS)
pb = panel([B_AX, B_AY, B_AZ], "a", 20, A_XTICKS, 1e-6, A_YTICKS)
pc = panel([C_UX, C_UY, C_UZ], "u", 10, U_XTICKS, 1e-5, U_YTICKS)
pd_ = panel([D_AX, D_AY, D_AZ], "a", 20, A_XTICKS, 1e-6, A_YTICKS)

chart = (
    alt.vconcat(
        alt.hconcat(pa, pb, spacing=113),
        alt.hconcat(pc, pd_, spacing=113),
        spacing=42,
    )
    .properties(padding={"left": 2, "top": -4, "right": 0, "bottom": 0})
    .configure_view(stroke=INK, strokeWidth=1.6)
    .configure_axis(
        labelFont=SANS, labelColor=INK,
        titleFont=SERIF, titleFontStyle="italic", titleFontWeight="normal", titleColor="#3a3a3a",
    )
)

chart.save("out.html", embed_options={"renderer": "svg", "actions": False})
